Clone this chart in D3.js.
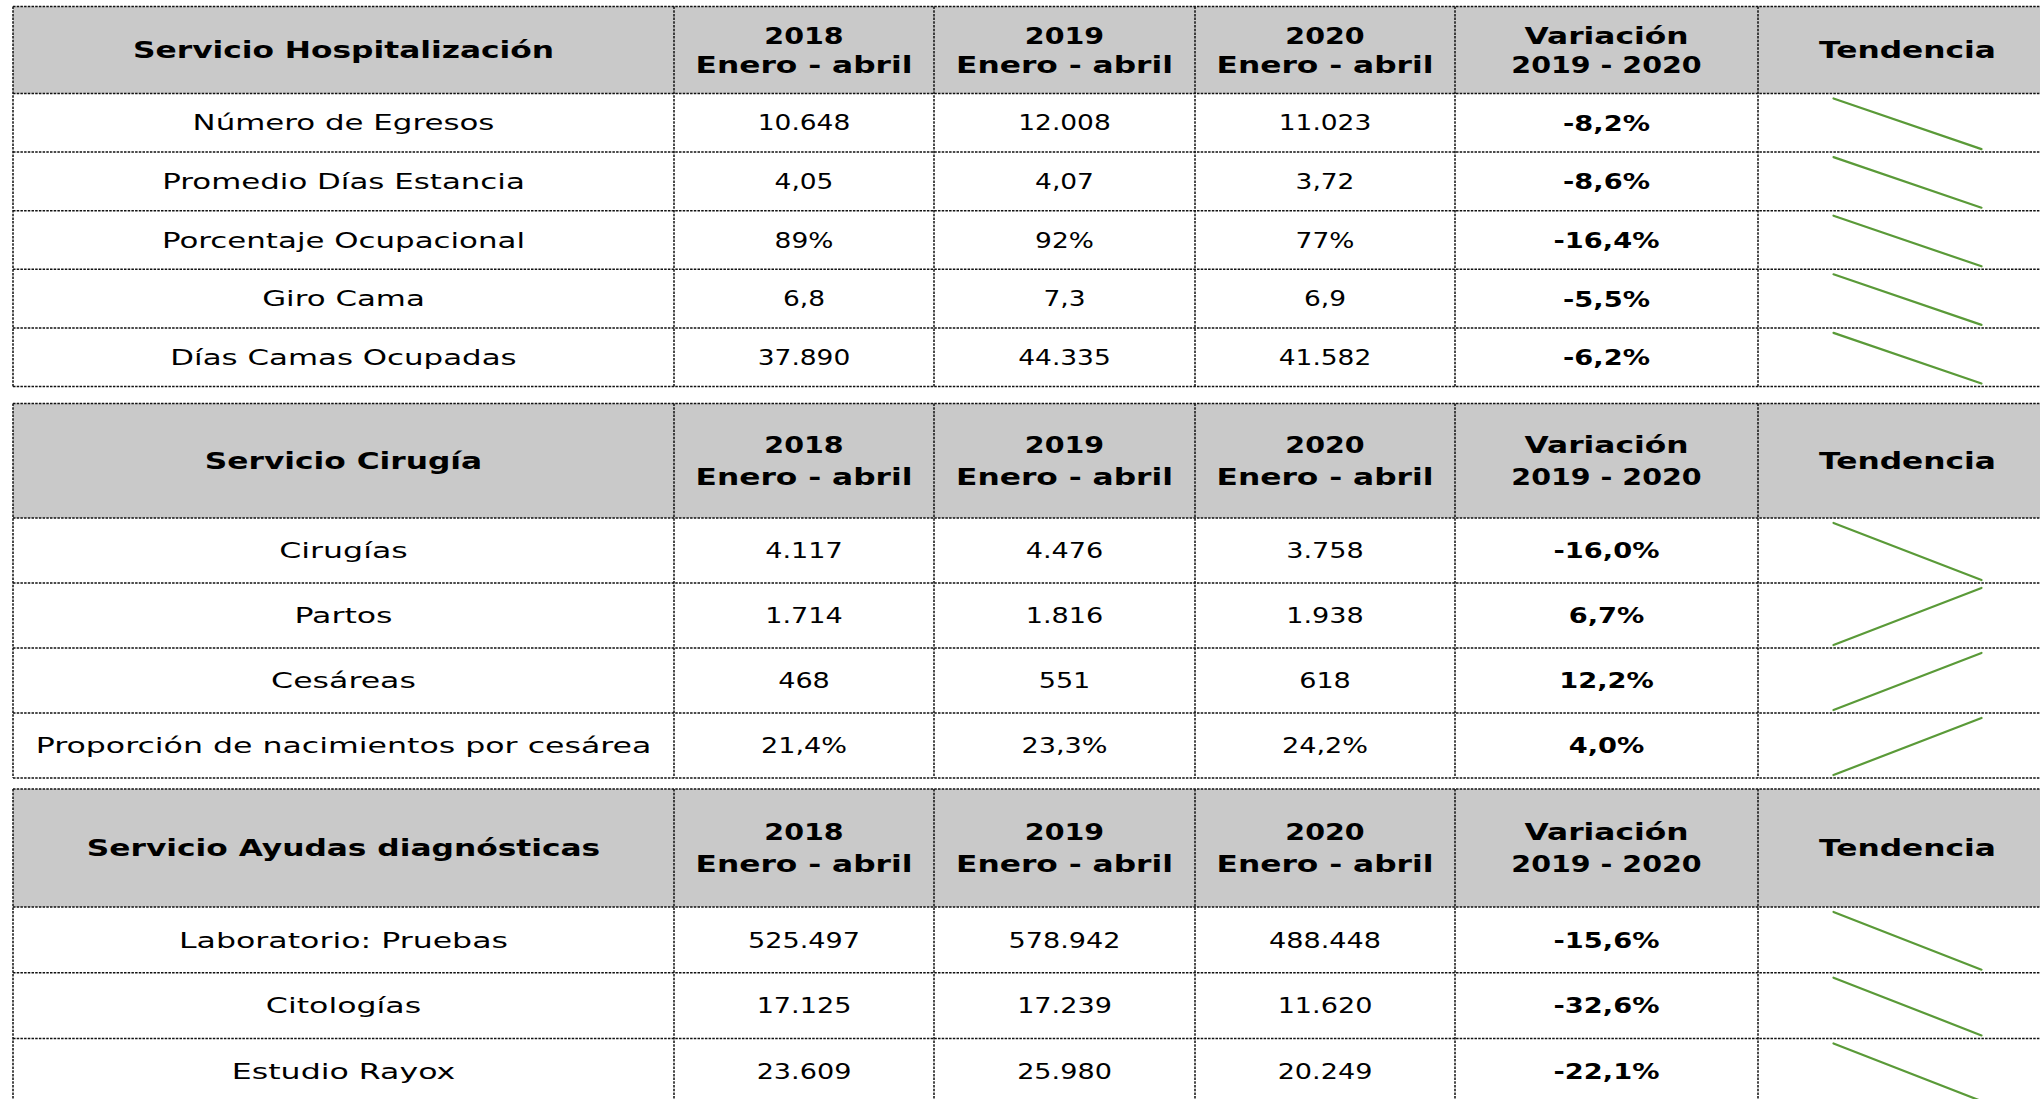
<!DOCTYPE html>
<html><head><meta charset="utf-8">
<script src="https://cdn.jsdelivr.net/npm/d3@7"></script>
<style>body{margin:0;background:#fff}svg{display:block}</style>
</head><body>
<svg id="c" width="2040" height="1099"></svg>
<script>
// ---------- data ----------
const sectionTitles = ["Servicio Hospitalización", "Servicio Cirugía", "Servicio Ayudas diagnósticas"];
const yearHeaders = ["2018", "2019", "2020"];
const periodLabel = "Enero - abril";
const variationHeader = ["Variación", "2019 - 2020"];
const trendHeader = "Tendencia";

const hospLabels = ["Número de Egresos", "Promedio Días Estancia", "Porcentaje Ocupacional", "Giro Cama", "Días Camas Ocupadas"];
const hosp2018 = [10648, 4.05, 89, 6.8, 37890];
const hosp2019 = [12008, 4.07, 92, 7.3, 44335];
const hosp2020 = [11023, 3.72, 77, 6.9, 41582];
const hospVar  = [-8.2, -8.6, -16.4, -5.5, -6.2];
const hospFmt  = [",d", ",.2f", "d%", ",.1f", ",d"];

const cirLabels = ["Cirugías", "Partos", "Cesáreas", "Proporción de nacimientos por cesárea"];
const cir2018 = [4117, 1714, 468, 21.4];
const cir2019 = [4476, 1816, 551, 23.3];
const cir2020 = [3758, 1938, 618, 24.2];
const cirVar  = [-16.0, 6.7, 12.2, 4.0];
const cirFmt  = [",d", ",d", ",d", ",.1f%"];

const diagLabels = ["Laboratorio: Pruebas", "Citologías", "Estudio Rayox"];
const diag2018 = [525497, 17125, 23609];
const diag2019 = [578942, 17239, 25980];
const diag2020 = [488448, 11620, 20249];
const diagVar  = [-15.6, -32.6, -22.1];
const diagFmt  = [",d", ",d", ",d"];

// ---------- helpers ----------
const loc = d3.formatLocale({decimal: ",", thousands: ".", grouping: [3], currency: ["$", ""], minus: "-"});
function fmtVal(v, spec) {
  const pct = spec.endsWith("%");
  const s = pct ? spec.slice(0, -1) : spec;
  return loc.format(s)(v) + (pct ? "%" : "");
}
const fmtVar = v => loc.format(",.1f")(v) + "%";

const tables = [
  {title: sectionTitles[0], labels: hospLabels, y18: hosp2018, y19: hosp2019, y20: hosp2020, vr: hospVar, fmt: hospFmt,
   top: 6.5, headH: 87, rowH: 58.6, hdOff: 14.5, fs: 21},
  {title: sectionTitles[1], labels: cirLabels, y18: cir2018, y19: cir2019, y20: cir2020, vr: cirVar, fmt: cirFmt,
   top: 403.5, headH: 114.5, rowH: 65, hdOff: 16, fs: 21.5},
  {title: sectionTitles[2], labels: diagLabels, y18: diag2018, y19: diag2019, y20: diag2020, vr: diagVar, fmt: diagFmt,
   top: 789, headH: 118, rowH: 65.7, hdOff: 16, fs: 21.5}
];

const colKeys = ["label", "y18", "y19", "y20", "var", "trend"];
const colEdges = [13, 674, 934, 1195, 1455, 1758, 2057];
const xL = d3.scaleOrdinal().domain(colKeys).range(colEdges.slice(0, 6));
const xR = d3.scaleOrdinal().domain(colKeys).range(colEdges.slice(1));
const xC = k => (xL(k) + xR(k)) / 2;

const svg = d3.select("#c");
const FONT = "'DejaVu Sans', sans-serif";
const LINE = "#111";
const DASH = "2.5,1.2";
const SX_TEXT = 1.47, SX_NUM = 1.26, SX_BOLD = 1.36, SX_BNUM = 1.24;

function txt(g, x, y, s, opts) {
  g.append("text")
    .attr("transform", `translate(${x},${y}) scale(${opts.sx},1)`)
    .attr("text-anchor", "middle")
    .attr("dy", "0.36em")
    .attr("font-family", FONT)
    .attr("font-size", opts.fs)
    .attr("font-weight", opts.bold ? "bold" : "normal")
    .attr("fill", "#000")
    .text(s);
}

tables.forEach(t => {
  const g = svg.append("g");
  const n = t.labels.length;
  const yRow = d3.scaleLinear().domain([0, n]).range([t.top + t.headH, t.top + t.headH + n * t.rowH]);
  const bottom = yRow(n);
  const left = colEdges[0], right = colEdges[colEdges.length - 1];

  g.append("rect").attr("x", left).attr("y", t.top).attr("width", right - left).attr("height", t.headH).attr("fill", "#c9c9c9");

  const hc = t.top + t.headH / 2;
  txt(g, xC("label"), hc, t.title, {fs: 23, bold: true, sx: SX_BOLD});
  ["y18", "y19", "y20"].forEach((k, i) => {
    txt(g, xC(k), hc - t.hdOff, yearHeaders[i], {fs: 23, bold: true, sx: SX_BNUM});
    txt(g, xC(k), hc + t.hdOff, periodLabel, {fs: 23, bold: true, sx: SX_BOLD});
  });
  txt(g, xC("var"), hc - t.hdOff, variationHeader[0], {fs: 23, bold: true, sx: SX_BOLD});
  txt(g, xC("var"), hc + t.hdOff, variationHeader[1], {fs: 23, bold: true, sx: SX_BNUM});
  txt(g, xC("trend"), hc, trendHeader, {fs: 23, bold: true, sx: SX_BOLD});

  t.labels.forEach((lab, i) => {
    const cy = (yRow(i) + yRow(i + 1)) / 2;
    txt(g, xC("label"), cy, lab, {fs: t.fs, sx: SX_TEXT});
    txt(g, xC("y18"), cy, fmtVal(t.y18[i], t.fmt[i]), {fs: t.fs, sx: SX_NUM});
    txt(g, xC("y19"), cy, fmtVal(t.y19[i], t.fmt[i]), {fs: t.fs, sx: SX_NUM});
    txt(g, xC("y20"), cy, fmtVal(t.y20[i], t.fmt[i]), {fs: t.fs, sx: SX_NUM});
    txt(g, xC("var"), cy, fmtVar(t.vr[i]), {fs: 22, bold: true, sx: SX_BNUM});
    const yTop = yRow(i) + 5, yBot = yRow(i + 1) - 3;
    const x1 = xC("trend") - 74, x2 = xC("trend") + 74;
    const up = t.vr[i] > 0;
    g.append("line")
      .attr("x1", x1).attr("x2", x2)
      .attr("y1", up ? yBot : yTop).attr("y2", up ? yTop : yBot)
      .attr("stroke", "#5a9a38").attr("stroke-width", 2.2).attr("stroke-linecap", "round");
  });

  const hy = [t.top, ...d3.range(n + 1).map(i => yRow(i))];
  g.selectAll("line.h").data(hy).join("line").attr("class", "h")
    .attr("x1", left).attr("x2", right).attr("y1", d => d).attr("y2", d => d)
    .attr("stroke", LINE).attr("stroke-width", 1.5).attr("stroke-dasharray", DASH);
  g.selectAll("line.v").data(colEdges.slice(0, 6)).join("line").attr("class", "v")
    .attr("x1", d => d).attr("x2", d => d).attr("y1", t.top).attr("y2", bottom)
    .attr("stroke", LINE).attr("stroke-width", 1.5).attr("stroke-dasharray", DASH);
});
</script>
</body></html>
